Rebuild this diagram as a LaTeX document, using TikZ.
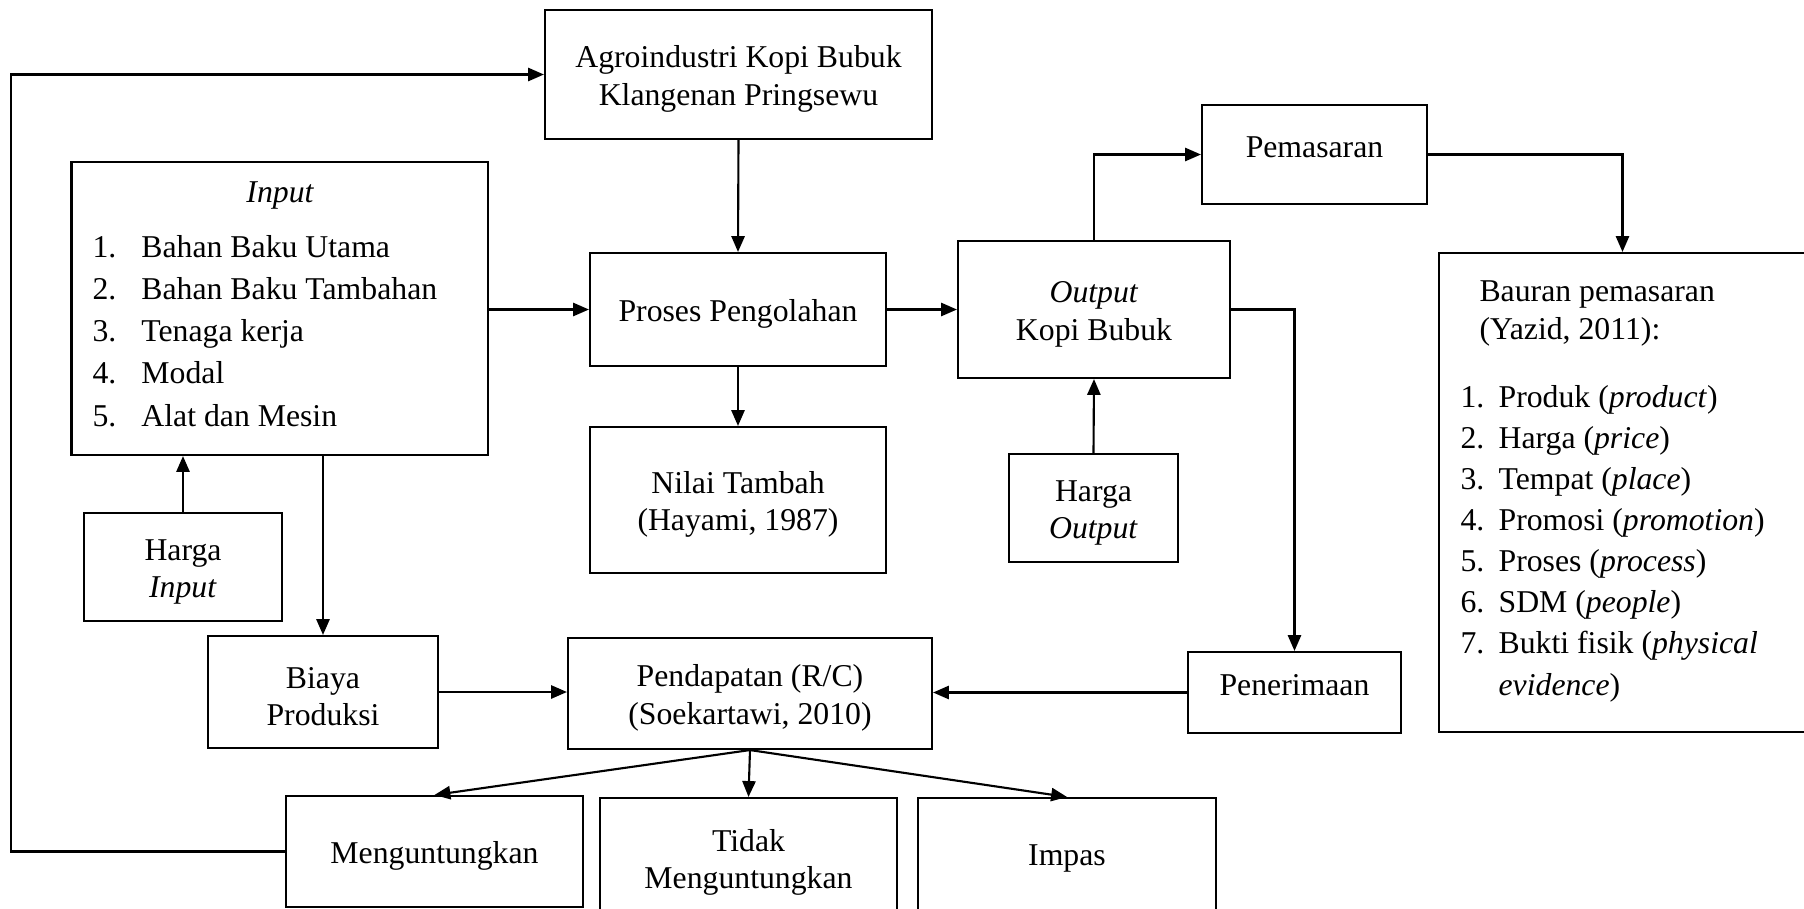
\documentclass[tikz,border=0pt]{standalone}
\usepackage{fontspec}
\setmainfont{Liberation Serif}
\usetikzlibrary{arrows.meta}
\newcommand\mybx[3]{\raisebox{0pt}[#1][#2]{#3}}
\newcommand\fl{\rule{0pt}{11.5pt}}
\begin{document}
\begin{tikzpicture}[x=0.378pt,y=-0.378pt,
  box/.style={draw, line width=0.8pt, inner sep=0pt, align=center, font=\fontsize{12pt}{14.2pt}\selectfont},
  sz/.style 2 args={minimum width={#1*0.378pt}, minimum height={#2*0.378pt}},
  txt/.style={inner sep=0pt, align=left},
  arr/.style={line width=0.8pt, -{Triangle[length=6pt,width=5pt]}}]
\useasboundingbox (0,0) rectangle (1804,908);

% boxes
\node[box, sz={387}{129}] (agro) at (738.5,74.5) {\fl Agroindustri Kopi Bubuk\\Klangenan Pringsewu};
\node[box, sz={416.5}{293}] (input) at (279.75,308.5) {};
\node[txt, anchor=base, font=\fontsize{12pt}{14.2pt}\selectfont\itshape] (inputT) at (280,202) {Input};
\node[txt, anchor=base west, font=\fontsize{12pt}{15.95pt}\selectfont] (inputL) at (92,426)
  {\makebox[18.5pt][l]{1.}Bahan Baku Utama\\
   \makebox[18.5pt][l]{2.}Bahan Baku Tambahan\\
   \makebox[18.5pt][l]{3.}Tenaga kerja\\
   \makebox[18.5pt][l]{4.}Modal\\
   \makebox[18.5pt][l]{5.}Alat dan Mesin};
\node[box, sz={198}{108}] (hin) at (183,567) {\fl Harga\\\textit{Input}};
\node[box, sz={230}{112}] (biaya) at (323,692) {\fl Biaya\\Produksi};
\node[box, sz={296}{113}] (proses) at (738,309.5) {\mybx{9.2pt}{0pt}{Proses Pengolahan}};
\node[box, sz={296}{146}] (nilai) at (738,500) {\fl Nilai Tambah\\(Hayami, 1987)};
\node[box, sz={272}{137}] (output) at (1094,309.5) {\fl\textit{Output}\\Kopi Bubuk};
\node[box, sz={169}{108}] (hout) at (1093.5,508) {\fl Harga\\\textit{Output}};
\node[box, sz={225}{99}] (pemasaran) at (1314.5,154.5) {\mybx{8pt}{5.4pt}{Pemasaran}};
\node[box, sz={367}{479}] (bauran) at (1622.5,492.5) {};
\node[txt, anchor=base west, font=\fontsize{12pt}{14pt}\selectfont] (bauranT) at (1479,339)
  {Bauran pemasaran\\(Yazid, 2011):};
\node[txt, anchor=base west, font=\fontsize{12pt}{15.55pt}\selectfont] (bauranL) at (1460,695)
  {\makebox[14.4pt][l]{1.}Produk (\textit{product})\\
   \makebox[14.4pt][l]{2.}Harga (\textit{price})\\
   \makebox[14.4pt][l]{3.}Tempat (\textit{place})\\
   \makebox[14.4pt][l]{4.}Promosi (\textit{promotion})\\
   \makebox[14.4pt][l]{5.}Proses (\textit{process})\\
   \makebox[14.4pt][l]{6.}SDM (\textit{people})\\
   \makebox[14.4pt][l]{7.}Bukti fisik (\textit{physical}\\
   \hspace*{14.4pt}\textit{evidence})};
\node[box, sz={213}{81}] (pener) at (1294.5,692.5) {\mybx{8pt}{6.1pt}{Penerimaan}};
\node[box, sz={364}{111}] (pend) at (750,693.5) {\fl Pendapatan (R/C)\\(Soekartawi, 2010)};
\node[box, sz={297}{111}] (mengun) at (434.5,851.5) {\mybx{8.7pt}{0pt}{Menguntungkan}};
\node[box, sz={297}{120}] (tidak) at (748.5,858) {\fl Tidak\\Menguntungkan};
\node[box, sz={298}{120}] (impas) at (1067,858) {\mybx{8pt}{2pt}{Impas}};

% connectors
\coordinate (fb) at (11,74.5);
\draw[arr] (mengun.west) -| (fb) -- (agro.west);
\draw[arr] (agro.south) -- (proses.north);
\draw[arr] (proses.south) -- (nilai.north);
\draw[arr] (input.east |- proses.west) -- (proses.west);
\draw[arr] (proses.east) -- (output.west);
\draw[arr] (output.north) |- (pemasaran.west);
\draw[arr] (pemasaran.east) -| (bauran.north);
\draw[arr] (hout.north) -- (output.south);
\draw[arr] (output.east) -| (pener.north);
\draw[arr] (pener.west) -- (pend.east |- pener.west);
\draw[arr] (biaya.east) -- (pend.west |- biaya.east);
\draw[arr] (hin.north) -- (hin.north |- input.south);
\draw[arr] (biaya.north |- input.south) -- (biaya.north);
\draw[arr] (pend.south) -- (mengun.north);
\draw[arr] (pend.south) -- (tidak.north);
\draw[arr] (pend.south) -- (impas.north);
\end{tikzpicture}
\end{document}
